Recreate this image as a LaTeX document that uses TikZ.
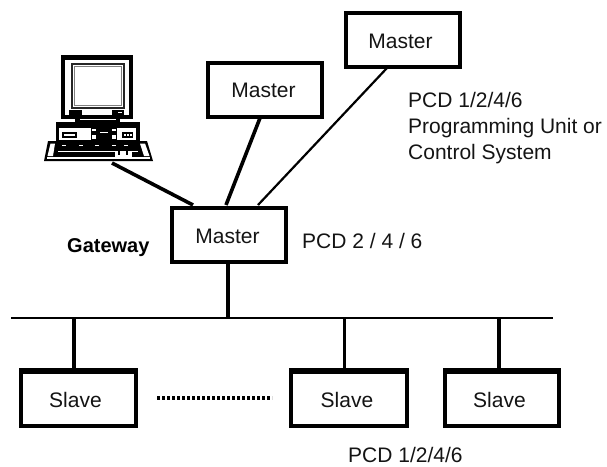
\documentclass[tikz,border=0pt]{standalone}
\usepackage{fontspec}
\setmainfont{Liberation Sans}
\usetikzlibrary{calc}
\tikzset{
  x=1pt,y=-1pt,
  box/.style={draw=black,line width=4pt,fill=white,inner sep=0pt,outer sep=0pt,minimum width=#1,minimum height=54pt},
  lbl/.style={font=\fontsize{21}{26}\selectfont,anchor=base,inner sep=0pt,text=black!92},
  lblw/.style={font=\fontsize{21}{26}\selectfont,anchor=base west,inner sep=0pt,text=black!92},
  wire/.style={draw=black,line width=3.6pt},
  thinwire/.style={draw=black,line width=2.2pt},
  bus/.style={draw=black,line width=2.8pt},
}
\begin{document}
\begin{tikzpicture}
\useasboundingbox (0,0) rectangle (607,466);
% boxes
\node[box=114pt] (mtop) at (403,40) {};
\node[box=114pt] (mmid) at (265,89.5) {};
\node[box=114pt] (gw) at (229,234.5) {};
\node[box=115pt] (s1) at (78.5,399) {};
\node[box=116pt] (s2) at (349,399) {};
\node[box=114pt] (s3) at (502,399) {};
\fill (19,368) rectangle (138,373);
\fill (289,368) rectangle (409,373);
\fill (443,368) rectangle (561,372);
% labels in boxes
\node[lbl] (tmtop) at (400.5,48) {Master};
\node[lbl] (tmmid) at (263.5,97) {Master};
\node[lbl] (tgw) at (227.5,243) {Master};
\node[lbl] (ts1) at (75.5,407) {Slave};
\node[lbl] (ts2) at (347,407) {Slave};
\node[lbl] (ts3) at (499.5,407) {Slave};
% free labels
\node[lblw,align=left] (pcdtop) at (408,107) {PCD 1/2/4/6};
\node[lblw] (prog) at (408,133) {Programming Unit or};
\node[lblw] (ctrl) at (408,159) {Control System};
\node[lblw] (pcdgw) at (302,248) {PCD 2 / 4 / 6};
\node[lblw,font=\fontsize{20}{24}\selectfont\bfseries,text=black] (gwl) at (67,252) {Gateway};
\node[lblw] (pcdbot) at (348,462) {PCD 1/2/4/6};
% computer
\coordinate (pcfoot) at (112,163);
\begin{scope}
  % monitor
  \draw[line width=4pt,fill=white] (63,57.5) rectangle (131,116.5);
  \fill (61,55) rectangle (133,59);
  \draw[line width=2pt,draw=black!85,fill=white] (71.5,63.5) rectangle (123.5,107.5);
  \draw[line width=.8pt,draw=black!50] (74,66) rectangle (121,105);
  \fill (69,110) rectangle (82,114.5);
  \fill (112,110) rectangle (124,114.5);
  \fill[white] (118,111.5) rectangle (122,113);
  % neck
  \fill (75,117) rectangle (120,122);
  \fill[white] (80,118.5) rectangle (116,120);
  % desktop
  \fill (56,122) rectangle (140,143);
  \fill[white] (59,127.5) rectangle (91,140);
  \fill[white] (117,127.5) rectangle (136,140);
  \fill[white] (92,129) rectangle (96,131);
  \fill[white] (92,135) rectangle (96,139);
  \fill[white] (112,135) rectangle (116,139);
  \fill[white] (112,129) rectangle (116,131);
  \fill[white] (100,132) rectangle (108,133);
  \fill (62,132) rectangle (77,137.5);
  \fill[white] (64,133.5) rectangle (75,135.5);
  \fill (122,132) rectangle (133,137.5);
  \fill[white] (124,134) rectangle (125.5,135.5);
  \fill[white] (127,134) rectangle (128.5,135.5);
  \fill[white] (130,134) rectangle (131.5,135.5);
  % keyboard
  \fill (48,141) -- (147,141) -- (153,161) -- (44,161) -- cycle;
  \fill[white] (50.5,143.5) -- (55,143.5) -- (53,156) -- (47.5,156) -- cycle;
  \fill[white] (140,143.5) -- (145,143.5) -- (149.5,156) -- (144,156) -- cycle;
  \fill[white] (47,157) rectangle (150,158.5);
  \foreach \kx in {62,79,95,112,124} \fill[white] (\kx,144.5) rectangle ++(4,1.2);
  \fill[white] (58,150.5) rectangle (138,151);
  \fill[white] (115,152) rectangle (132,156.5);
  \fill (118,150) rectangle (120,155);
  \fill (126,150) rectangle (128,155);
\end{scope}
% connectors
\coordinate (gwa) at (193,205);
\coordinate (gwb) at (226,205);
\coordinate (gwc) at (258,205);
\coordinate (mmidb) at (260,118);
\coordinate (mtopb) at (387,68);
\draw[wire] (pcfoot) -- (gwa);
\draw[wire] (mmidb) -- (gwb);
\draw[thinwire] (mtopb) -- (gwc);
\coordinate (busl) at (11,318);
\coordinate (busr) at (553,318);
\coordinate (t0) at (228,318);
\coordinate (t1) at (74,318);
\coordinate (t2) at (344.5,318);
\coordinate (t3) at (499,318);
\draw[bus] (busl) -- (busr);
\draw[wire] (gw.south -| t0) -- (t0);
\draw[wire] (t1) -- (s1.north -| t1);
\draw[wire] (t2) -- (s2.north -| t2);
\draw[wire] (t3) -- (s3.north -| t3);
\coordinate (dl) at (157,398);
\coordinate (dr) at (272,398);
\draw[line width=3.4pt,dash pattern=on 3.2pt off 1.8pt] (dl) -- (dr);
\end{tikzpicture}
\end{document}
